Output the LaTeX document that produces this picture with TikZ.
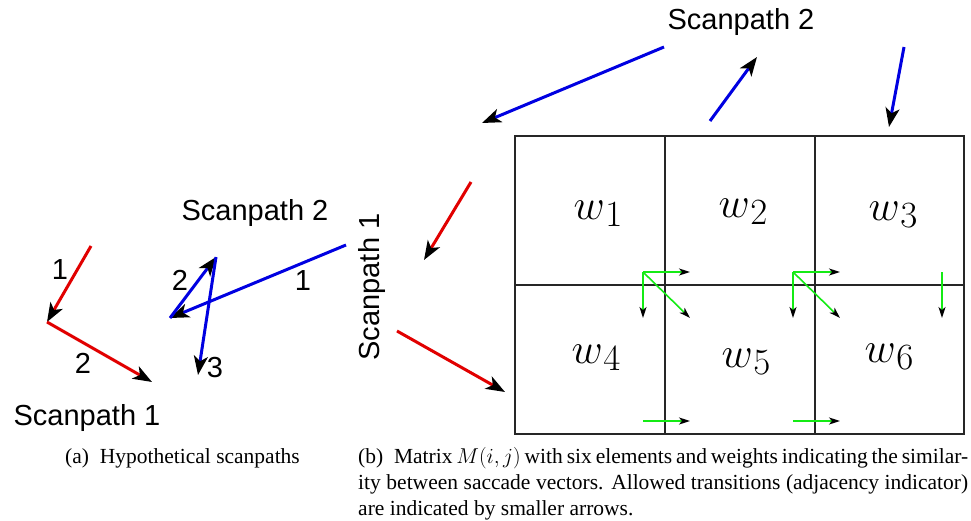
\documentclass[tikz,border=0pt]{standalone}
\usepackage{fix-cm}
\usepackage{amsmath}
\usepackage{fontspec}
\setmainfont{Liberation Serif}
\setsansfont{Liberation Sans}
\usetikzlibrary{arrows.meta}
\definecolor{pathred}{RGB}{225,0,0}
\definecolor{pathblue}{RGB}{0,0,225}
\definecolor{transgreen}{RGB}{20,235,20}
\newcommand\lblfont{\fontsize{29}{34}\selectfont\sffamily}
\newcommand\wfont{\fontsize{43}{50}\selectfont}
\newcommand\capfont{\fontsize{21.5}{26.3}\selectfont}
\newcommand\wlab[1]{$w$\kern0.5pt\raisebox{-7pt}{\fontsize{37}{40}\selectfont$#1$}}
\tikzset{
	saccade/.style={line width=3pt,-{Stealth[black,length=19pt,width=14pt,inset=5pt]}},
	trans/.style={transgreen,line width=1.6pt,-{Stealth[black,length=11pt,width=7pt,inset=3pt]}},
	cell/.style={line width=1.3pt,black!85},
	lbl/.style={font=\lblfont},
	wnode/.style={font=\wfont,anchor=base},
}
\begin{document}
\begin{tikzpicture}[x=1pt,y=-1pt,inner sep=0pt]
\useasboundingbox (0,0) rectangle (971,521);

%% (a) les deux chemins
\coordinate (Pa) at (91,246);
\coordinate (Pb) at (47,322);
\coordinate (Pc) at (152,382);
\coordinate (Qa) at (346,245);
\coordinate (Qb) at (170,318);
\coordinate (Qc) at (216,257);
\coordinate (Qd) at (198,375);

\draw[saccade,pathred] (Pa)--(Pb);
\draw[saccade,pathred] (Pb)--(Pc);
\draw[saccade,pathblue] (Qa)--(Qb);
\draw[saccade,pathblue] (Qb)--(Qc);
\draw[saccade,pathblue] (Qc)--(Qd);

\node[lbl] (p1) at (60,270) {1};
\node[lbl] (p2) at (83,363) {2};
\node[lbl] (q1) at (303,281) {1};
\node[lbl] (q2) at (180,280) {2};
\node[lbl] (q3) at (215,368) {3};
\node[lbl] (sp1) at (87,418) {Scanpath 1};
\node[lbl] (sp2) at (255,213) {Scanpath 2};

%% (b) la matrice M(i,j)
\coordinate (M00) at (515,136);
\coordinate (M11) at (964,434);
\draw[cell] (M00) rectangle (M11);
\draw[cell] (665,136)--(665,434);
\draw[cell] (815,136)--(815,434);
\draw[cell] (515,285)--(964,285);

\node[wnode] (w1) at (598,220) {\wlab{1}};
\node[wnode] (w2) at (743,218) {\wlab{2}};
\node[wnode] (w3) at (893,221) {\wlab{3}};
\node[wnode] (w4) at (596,363) {\wlab{4}};
\node[wnode] (w5) at (746,367) {\wlab{5}};
\node[wnode] (w6) at (889,362) {\wlab{6}};

%% "Ga" = origine, "Gr" = droite, "Gd" = bas, "Gx" = diagonale
\coordinate (Ga) at (643,272);
\coordinate (Gr) at (690,272);
\coordinate (Gd) at (643,318);
\coordinate (Gx) at (690,318);
\coordinate (Ha) at (793,272);
\coordinate (Hr) at (840,272);
\coordinate (Hd) at (793,318);
\coordinate (Hx) at (840,318);
\coordinate (Ka) at (942,272);
\coordinate (Kd) at (942,318);
\coordinate (La) at (643,421);
\coordinate (Lr) at (690,421);
\coordinate (Na) at (793,421);
\coordinate (Nr) at (840,421);

\draw[trans] (Ga)--(Gr);
\draw[trans] (Ga)--(Gd);
\draw[trans] (Ga)--(Gx);
\draw[trans] (Ha)--(Hr);
\draw[trans] (Ha)--(Hd);
\draw[trans] (Ha)--(Hx);
\draw[trans] (Ka)--(Kd);
\draw[trans] (La)--(Lr);
\draw[trans] (Na)--(Nr);

\coordinate (Ua) at (664,47);
\coordinate (Ub) at (482,123);
\coordinate (Uc) at (710,121);
\coordinate (Ud) at (757,57);
\coordinate (Ue) at (904,47);
\coordinate (Uf) at (889,127);
\draw[saccade,pathblue] (Ua)--(Ub);
\draw[saccade,pathblue] (Uc)--(Ud);
\draw[saccade,pathblue] (Ue)--(Uf);
\node[lbl] (top2) at (741,22) {Scanpath 2};

\coordinate (Ra) at (471,182);
\coordinate (Rb) at (424,260);
\coordinate (Rc) at (397,331);
\coordinate (Rd) at (505,392);
\draw[saccade,pathred] (Ra)--(Rb);
\draw[saccade,pathred] (Rc)--(Rd);
\node[lbl,rotate=90] (left1) at (372,287) {Scanpath 1};

%% legendes
\node[font=\capfont,anchor=base west] (capa) at (65,463) {(a)\enspace Hypothetical scanpaths};
\node[font=\capfont,anchor=north west,text width=610pt,align=justify] (capb) at (358,447)
	{(b)\enspace Matrix $M(i,j)$ with six elements and weights indicating the similar-\linebreak ity between saccade vectors. Allowed transitions (adjacency indicator)\linebreak are indicated by smaller arrows.};
\end{tikzpicture}
\end{document}
